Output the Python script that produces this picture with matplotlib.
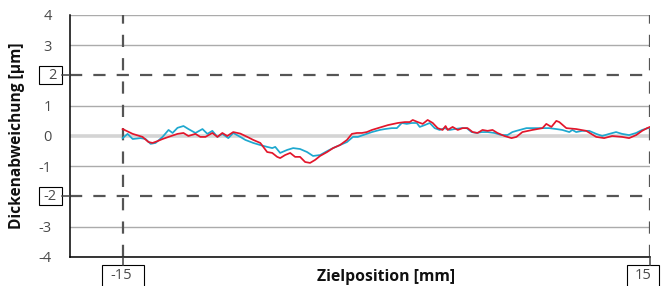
"""
Dickenabweichung entlang der Zielposition
"""

import matplotlib
matplotlib.use("Agg")
import matplotlib.pyplot as plt
from matplotlib.patches import Rectangle
from matplotlib.lines import Line2D

plt.rcParams['font.family'] = ['Open Sans', 'DejaVu Sans']

# red trace
red_x = [-15.0, -14.43, -13.87, -13.53, -13.30, -13.02, -12.73, -12.39, -11.88, -11.54,
         -11.26, -10.86, -10.58, -10.29, -9.90, -9.61, -9.33, -9.05, -8.71, -8.31,
         -7.91, -7.57, -7.17, -6.78, -6.49, -6.21, -6.04, -5.76, -5.47, -5.19,
         -4.91, -4.62, -4.34, -4.05, -3.77, -3.37, -3.03, -2.64, -2.24, -1.96,
         -1.67, -1.39, -1.11, -0.82, -0.48, 0.09, 0.65, 1.05, 1.33, 1.50,
         1.79, 2.07, 2.35, 2.64, 2.92, 3.20, 3.37, 3.49, 3.77, 4.06,
         4.34, 4.62, 4.91, 5.19, 5.47, 5.76, 6.04, 6.32, 6.72, 7.12,
         7.40, 7.74, 8.31, 8.88, 9.10, 9.39, 9.67, 9.84, 10.24, 10.80,
         11.37, 11.94, 12.39, 12.85, 13.41, 13.81, 14.21, 14.55, 14.83, 15.0]
red_y = [0.23, 0.07, -0.03, -0.20, -0.23, -0.17, -0.10, -0.03, 0.07, 0.10,
         0.00, 0.07, -0.03, -0.03, 0.10, -0.03, 0.10, 0.00, 0.13, 0.08,
         -0.03, -0.13, -0.23, -0.53, -0.56, -0.69, -0.73, -0.63, -0.56, -0.69,
         -0.69, -0.86, -0.89, -0.79, -0.66, -0.53, -0.40, -0.30, -0.13, 0.07,
         0.10, 0.10, 0.13, 0.20, 0.26, 0.36, 0.43, 0.46, 0.46, 0.53,
         0.46, 0.40, 0.53, 0.43, 0.26, 0.20, 0.33, 0.20, 0.30, 0.20,
         0.26, 0.26, 0.13, 0.10, 0.20, 0.17, 0.20, 0.10, 0.00, -0.07,
         -0.03, 0.13, 0.20, 0.26, 0.40, 0.30, 0.50, 0.46, 0.26, 0.23,
         0.17, -0.03, -0.07, 0.00, -0.03, -0.07, 0.03, 0.17, 0.26, 0.30]

# cyan trace
cyan_x = [-15.0, -14.72, -14.43, -13.98, -13.70, -13.41, -13.13, -12.73, -12.39, -12.16,
          -11.88, -11.54, -11.26, -10.86, -10.46, -10.18, -9.90, -9.61, -9.33, -8.99,
          -8.71, -8.31, -8.02, -7.57, -7.17, -6.78, -6.49, -6.32, -6.04, -5.64,
          -5.30, -4.91, -4.51, -4.17, -3.77, -3.37, -3.03, -2.64, -2.24, -1.90,
          -1.62, -1.22, -0.82, -0.37, -0.08, 0.31, 0.60, 0.88, 1.16, 1.45,
          1.73, 1.90, 2.18, 2.47, 2.75, 3.03, 3.32, 3.60, 3.89, 4.28,
          4.57, 4.85, 5.13, 5.42, 5.76, 6.15, 6.55, 6.89, 7.17, 7.40,
          7.97, 8.54, 8.88, 9.27, 9.67, 10.01, 10.41, 10.58, 10.80, 11.14,
          11.54, 11.94, 12.28, 12.68, 13.07, 13.41, 13.81, 14.21, 14.55, 14.89, 15.0]
cyan_y = [-0.07, 0.07, -0.10, -0.07, -0.10, -0.26, -0.23, -0.03, 0.20, 0.10,
          0.27, 0.33, 0.23, 0.10, 0.23, 0.07, 0.17, -0.03, 0.07, -0.07,
          0.10, -0.03, -0.13, -0.23, -0.30, -0.36, -0.40, -0.36, -0.56, -0.46,
          -0.40, -0.43, -0.53, -0.66, -0.63, -0.50, -0.40, -0.30, -0.20, -0.03,
          -0.03, 0.05, 0.13, 0.20, 0.23, 0.26, 0.26, 0.43, 0.40, 0.43,
          0.43, 0.30, 0.36, 0.43, 0.26, 0.20, 0.26, 0.20, 0.23, 0.26,
          0.26, 0.13, 0.10, 0.13, 0.13, 0.10, 0.03, 0.03, 0.13, 0.17,
          0.26, 0.26, 0.26, 0.26, 0.23, 0.20, 0.13, 0.20, 0.13, 0.17,
          0.17, 0.07, 0.00, 0.07, 0.13, 0.07, 0.03, 0.10, 0.20, 0.26, 0.28]

y_ticks = [-4, -3, -2, -1, 0, 1, 2, 3, 4]
x_ticks = [-15, 15]
limits = [-2, 2]

fig = plt.figure(figsize=(6.66, 2.86), dpi=100)
ax = fig.add_axes([0.105, 0.1014, 0.871, 0.8462])
ax.set_xlim(-18, 15)
ax.set_ylim(-4, 4)

# grid
for y in y_ticks:
    if y == 0:
        ax.axhline(y, color='#d4d4d4', lw=2.6, zorder=1)
    elif y not in limits:
        ax.axhline(y, color='#ababab', lw=1.0, zorder=1)

dash = dict(color='#555555', lw=1.6, dashes=(5.5, 5), zorder=2)
for y in limits:
    ax.axhline(y, **dash)
for x in x_ticks:
    ax.axvline(x, **dash)

ax.plot(cyan_x, cyan_y, color='#1ea8cf', lw=1.25, zorder=3,
        solid_joinstyle='round')
ax.plot(red_x, red_y, color='#e3162b', lw=1.25, zorder=4,
        solid_joinstyle='round')

for s in ['top', 'right']:
    ax.spines[s].set_visible(False)
for s in ['left', 'bottom']:
    ax.spines[s].set_color('black')
    ax.spines[s].set_linewidth(1.1)

fs = 10.5
# plain y labels, boxed ones added by hand below
ax.set_yticks(y_ticks)
ax.set_yticklabels(['' if v in limits else str(v) for v in y_ticks])
ax.tick_params(axis='y', length=0, pad=13, labelsize=fs, labelcolor='#4a4a4a')
ax.set_xticks([])

# boxed tick labels (pixel coords)
tick_col = '#444444'
lab_kw = dict(fontsize=fs, color='#4a4a4a', va='center', transform=None)
for v in limits:
    sx, sy = ax.transData.transform((-18, v))
    fig.add_artist(Line2D([sx - 8, sx], [sy, sy], color=tick_col, lw=1.1, transform=None))
    fig.add_artist(Rectangle((sx - 31, sy - 9), 23, 18, fc='white', ec='black',
                             lw=0.8, transform=None))
    fig.text(sx - 13, sy, str(v), ha='right', **lab_kw)

for v in x_ticks:
    tx, ty = ax.transData.transform((v, -4))
    fig.add_artist(Line2D([tx, tx], [ty, ty - 8], color=tick_col, lw=1.1, transform=None))
    if v < 0:
        left, w, cx = tx - 21, 42, tx - 1
    else:
        left, w, cx = tx - 23, 32, tx - 7
    fig.add_artist(Rectangle((left, ty - 8 - 30), w, 30, fc='white', ec='black',
                             lw=0.8, transform=None))
    fig.text(cx, ty - 19, str(v), ha='center', **lab_kw)

ax.text(0, -4.65, 'Zielposition [mm]', ha='center', va='center',
        fontsize=11.3, fontweight='bold', color='#111111')
fig.text(0.026, 0.524, 'Dickenabweichung [µm]', rotation=90, ha='center', va='center',
         fontsize=11.2, fontweight='bold', color='#111111')

fig.savefig('out.png', dpi=100)
